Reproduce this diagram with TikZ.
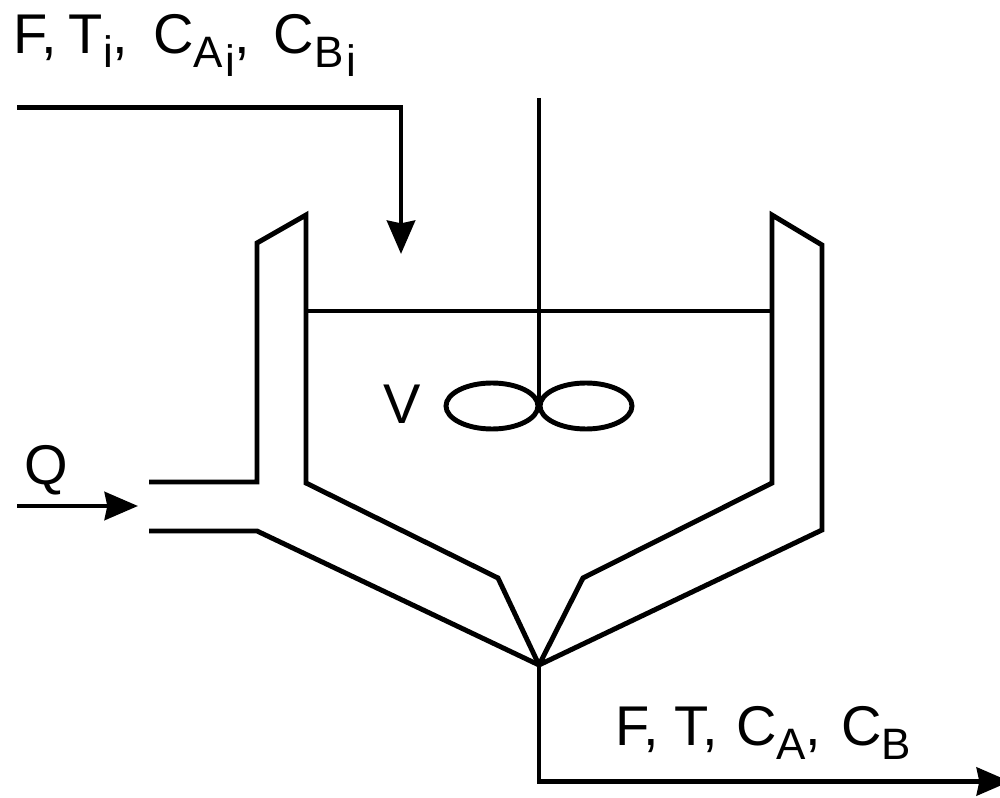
\documentclass[tikz,border=0pt]{standalone}
\usepackage{fontspec}
\setmainfont{Liberation Sans}
\usepackage{tikz}
\usetikzlibrary{positioning,arrows.meta,shapes.geometric}
\newcommand{\lowsub}[1]{\raisebox{-10.5pt}{\fontsize{33}{33}\selectfont #1}}
\newcommand{\lowersub}[1]{\kern2pt\raisebox{-17pt}{\fontsize{33}{33}\selectfont #1}}
\tikzset{
  wall/.style={line width=3.7pt, line join=miter},
  flow/.style={wall, -{Stealth[length=25pt,width=21pt,inset=2pt]}},
  blade/.style={draw, wall, ellipse, minimum width=69pt, minimum height=34.5pt, inner sep=0pt},
  lbl/.style={font=\fontsize{42}{42}\selectfont, inner sep=0pt, anchor=base west}
}
\begin{document}
\begin{tikzpicture}[x=0.75pt,y=-0.75pt]
\useasboundingbox (0,0) rectangle (1000,798);
% corners of the tank
\coordinate (InStart) at (17,107.5);
\coordinate (InBend) at (401,107.5);
\coordinate (InEnd) at (401,254);
\coordinate (ShaftTop) at (539,98);
\coordinate (Hub) at (539,406);
\coordinate (Tip) at (539,665);
\coordinate (OutBend) at (539,781.5);
\coordinate (OutEnd) at (1010,781.5);
\coordinate (InnerL) at (306,483);
\coordinate (InnerR) at (772,483);
\coordinate (LevelL) at (306,311);
\coordinate (LevelR) at (772,311);
% tank walls
\draw [wall] (Tip) -- (498,578) -- (InnerL) -- (306,215) -- (257,243) -- (257,482) -- (149,482);
\draw [wall] (Tip) -- (583,578) -- (InnerR) -- (772,215) -- (822,245) -- (822,530) -- (Tip);
\draw [wall] (149,531) -- (257,531) -- (Tip);
\draw [wall] (LevelL) -- (LevelR);
% shaft and impeller
\draw [wall] (ShaftTop) -- (Hub);
\node [blade] (BladeL) at (492,406) {};
\node [blade] (BladeR) at (586,406) {};
% streams
\draw [flow] (InStart) -- (InBend) -- (InEnd);
\coordinate (QStart) at (17,506);
\coordinate (QEnd) at (138,506);
\draw [flow] (QStart) -- (QEnd);
\draw [wall,line cap=rect] (Tip) -- (OutBend);
\draw [flow] (OutBend) -- (OutEnd);
% labels
\node [lbl] (FeedLbl) at (13,54) {F,\kern9pt T\lowsub{i}, \kern7pt C\lowsub{A}\lowersub{i}\kern-1pt,\kern18pt C\lowsub{B}\lowersub{i}};
\node [lbl] (VolLbl) at (383,424) {V};
\node [lbl] (HeatLbl) at (24,484) {Q};
\node [lbl] (OutLbl) at (615,745) {F, T, \kern2pt C\lowsub{A}, \kern3pt C\lowsub{B}};
\end{tikzpicture}
\end{document}
